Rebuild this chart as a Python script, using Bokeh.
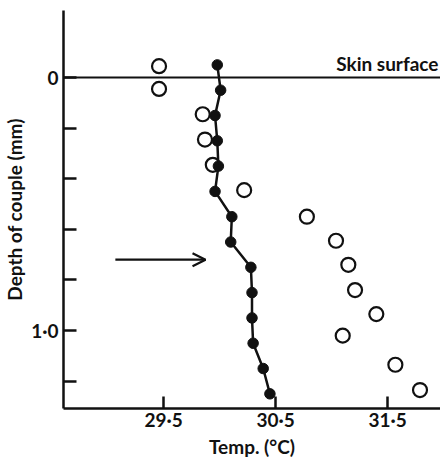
from bokeh.plotting import figure
from bokeh.models import (Range1d, FixedTicker, CustomJSTickFormatter, Span,
                          Label, Arrow, OpenHead)
from bokeh.embed import file_html
from bokeh.resources import INLINE

# Depth of thermocouple below the skin surface (mm)
depth_couple = [-0.05, 0.05, 0.15, 0.25, 0.35, 0.45, 0.55, 0.65, 0.75, 0.85,
                0.95, 1.05, 1.15, 1.25]
# Temperature read by the couple (deg C), joined series
temp_filled = [29.98, 30.01, 29.96, 29.98, 29.99, 29.96, 30.11, 30.10, 30.28,
               30.29, 30.29, 30.30, 30.39, 30.45]
# Second series, open circles
depth_open = [-0.045, 0.045, 0.145, 0.245, 0.345, 0.445, 0.55, 0.645, 0.74,
              0.84, 0.935, 1.02, 1.135, 1.235]
temp_open = [29.46, 29.46, 29.85, 29.87, 29.94, 30.22, 30.78, 31.04, 31.15,
             31.21, 31.40, 31.10, 31.57, 31.79]

x_ticks = [29.5, 30.5, 31.5]
y_ticks_labelled = [0, 1.0]
y_ticks_plain = [0.2, 0.4, 0.6, 0.8, 1.2]

arrow_depth = 0.72
arrow_from = 29.07
arrow_to = 29.875

FONT = "Lato"
INK = "#111111"
FS = "19px"

p = figure(width=440, height=461, output_backend="svg", toolbar_location=None,
           x_range=Range1d(28.607, 31.973), y_range=Range1d(1.308, -0.265),
           min_border_left=63, min_border_right=0, min_border_top=10,
           min_border_bottom=53)
p.outline_line_color = None
p.xgrid.visible = False
p.ygrid.visible = False
p.background_fill_color = "white"
p.border_fill_color = "white"

fmt = CustomJSTickFormatter(
    code="return tick == 0 ? '0' : tick.toFixed(1).replace('.', '\u00b7');")

for ax in (p.xaxis[0], p.yaxis[0]):
    ax.axis_line_width = 2.5
    ax.axis_line_color = INK
    ax.major_tick_line_width = 2.5
    ax.minor_tick_line_width = 2.5
    ax.major_tick_line_color = INK
    ax.minor_tick_line_color = INK
    ax.major_tick_out = 0
    ax.minor_tick_out = 0
    ax.major_label_text_font = FONT
    ax.major_label_text_font_size = FS
    ax.major_label_text_font_style = "bold"
    ax.major_label_text_color = INK
    ax.axis_label_text_font = FONT
    ax.axis_label_text_font_size = FS
    ax.axis_label_text_font_style = "bold"
    ax.axis_label_text_color = INK
    ax.formatter = fmt

p.xaxis.ticker = FixedTicker(ticks=x_ticks, minor_ticks=[])
p.xaxis.major_tick_in = 12
p.xaxis.major_label_standoff = -1
p.xaxis.axis_label_standoff = 1
p.xaxis.axis_label = "Temp. (\u00b0C)"

p.yaxis.ticker = FixedTicker(ticks=y_ticks_labelled, minor_ticks=y_ticks_plain)
p.yaxis.major_tick_in = 13
p.yaxis.minor_tick_in = 13
p.yaxis.major_label_standoff = 5
p.yaxis.major_label_orientation = "horizontal"
p.yaxis.axis_label = "Depth of couple (mm)"
p.yaxis.axis_label_standoff = 2

# Skin surface reference line
p.add_layout(Span(location=0, dimension="width", line_color=INK, line_width=2))
p.add_layout(Label(x=31.973, y=0, text="Skin surface", text_align="right",
                   text_baseline="bottom", y_offset=3, x_offset=-2,
                   text_font=FONT, text_font_size=FS,
                   text_font_style="bold", text_color=INK))

# Measured profile joined by a line
p.line(temp_filled, depth_couple, line_color=INK, line_width=2.5)
p.scatter(temp_filled, depth_couple, size=10.5, fill_color=INK, line_color=INK)

# Open-circle series
p.scatter(temp_open, depth_open, size=14, fill_color=None, line_color=INK,
          line_width=2.2)

p.add_layout(Arrow(x_start=arrow_from, y_start=arrow_depth, x_end=arrow_to,
                   y_end=arrow_depth, line_color=INK, line_width=2.2,
                   end=OpenHead(size=13, line_color=INK, line_width=2.2)))

open("out.html", "w").write(file_html(p, INLINE))
